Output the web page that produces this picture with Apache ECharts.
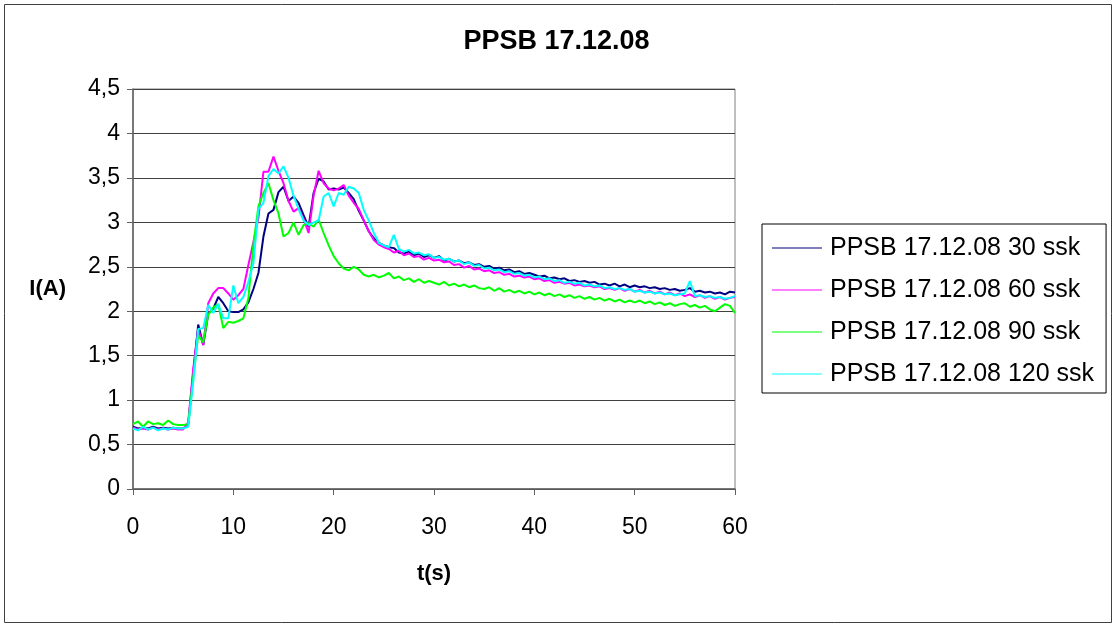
<!DOCTYPE html>
<html>
<head>
<meta charset="utf-8">
<script src="https://cdn.jsdelivr.net/npm/echarts@6/dist/echarts.min.js"></script>
<style>
html,body{margin:0;padding:0;background:#fff;}
#chart{width:1113px;height:624px;}
</style>
</head>
<body>
<div id="chart"></div>
<script>
const titleText = 'PPSB 17.12.08';
const seriesNames = ['PPSB 17.12.08 30 ssk','PPSB 17.12.08 60 ssk','PPSB 17.12.08 90 ssk','PPSB 17.12.08 120 ssk'];
const xAxisTitle = 't(s)';
const yAxisTitle = 'I(A)';

const times = [
 0,0.5,1,1.5,2,2.5,3,3.5,4,4.5,
 5,5.5,6,6.5,7,7.5,8,8.5,9,9.5,
 10,10.5,11,11.5,12,12.5,13,13.5,14,14.5,
 15,15.5,16,16.5,17,17.5,18,18.5,19,19.5,
 20,20.5,21,21.5,22,22.5,23,23.5,24,24.5,
 25,25.5,26,26.5,27,27.5,28,28.5,29,29.5,
 30,30.5,31,31.5,32,32.5,33,33.5,34,34.5,
 35,35.5,36,36.5,37,37.5,38,38.5,39,39.5,
 40,40.5,41,41.5,42,42.5,43,43.5,44,44.5,
 45,45.5,46,46.5,47,47.5,48,48.5,49,49.5,
 50,50.5,51,51.5,52,52.5,53,53.5,54,54.5,
 55,55.5,56,56.5,57,57.5,58,58.5,59,59.5,
 60];

const ssk30 = [
 0.70,0.68,0.69,0.68,0.70,0.68,0.69,0.68,0.69,0.68,
 0.68,0.72,1.30,1.85,1.62,1.97,2.03,2.16,2.09,2.00,
 1.99,1.99,2.02,2.10,2.25,2.43,2.84,3.10,3.14,3.34,
 3.40,3.24,3.29,3.22,3.08,2.95,3.33,3.49,3.46,3.37,
 3.38,3.37,3.39,3.33,3.26,3.13,3.02,2.90,2.82,2.77,
 2.74,2.72,2.71,2.66,2.65,2.67,2.63,2.65,2.61,2.63,
 2.60,2.62,2.57,2.59,2.56,2.57,2.54,2.55,2.52,2.53,
 2.50,2.51,2.48,2.49,2.46,2.47,2.44,2.45,2.42,2.43,
 2.41,2.39,2.40,2.37,2.38,2.36,2.37,2.34,2.35,2.33,
 2.34,2.32,2.33,2.30,2.31,2.29,2.31,2.28,2.30,2.27,
 2.29,2.27,2.28,2.26,2.27,2.25,2.26,2.24,2.25,2.23,
 2.24,2.26,2.22,2.23,2.21,2.22,2.20,2.21,2.19,2.22,
 2.21];

const ssk60 = [
 0.69,0.67,0.68,0.67,0.69,0.67,0.68,0.67,0.68,0.67,
 0.67,0.75,1.35,1.80,1.62,2.09,2.20,2.26,2.26,2.20,
 2.13,2.18,2.25,2.52,2.78,3.05,3.57,3.57,3.74,3.58,
 3.44,3.24,3.12,3.16,3.04,2.88,3.30,3.58,3.44,3.38,
 3.36,3.38,3.42,3.30,3.22,3.15,3.02,2.90,2.80,2.75,
 2.72,2.70,2.66,2.68,2.63,2.65,2.61,2.62,2.58,2.60,
 2.57,2.58,2.55,2.56,2.52,2.53,2.49,2.51,2.47,2.48,
 2.45,2.46,2.43,2.44,2.41,2.42,2.39,2.40,2.38,2.39,
 2.36,2.37,2.34,2.35,2.32,2.33,2.31,2.32,2.29,2.30,
 2.28,2.29,2.27,2.28,2.25,2.26,2.24,2.26,2.23,2.25,
 2.22,2.24,2.21,2.23,2.20,2.22,2.19,2.21,2.18,2.20,
 2.17,2.19,2.16,2.18,2.15,2.17,2.14,2.16,2.13,2.15,
 2.16];

const ssk90 = [
 0.73,0.76,0.70,0.76,0.73,0.74,0.72,0.77,0.73,0.72,
 0.72,0.73,1.25,1.73,1.65,1.96,2.04,2.08,1.81,1.88,
 1.87,1.89,1.92,2.15,2.75,3.18,3.33,3.44,3.25,3.10,
 2.84,2.88,3.00,2.86,2.97,2.99,2.95,3.03,2.88,2.74,
 2.62,2.54,2.48,2.46,2.50,2.47,2.41,2.39,2.41,2.38,
 2.40,2.43,2.37,2.39,2.35,2.37,2.33,2.36,2.32,2.34,
 2.32,2.30,2.33,2.29,2.31,2.28,2.30,2.27,2.29,2.26,
 2.25,2.27,2.23,2.26,2.22,2.24,2.21,2.23,2.20,2.22,
 2.19,2.21,2.18,2.20,2.17,2.19,2.16,2.18,2.15,2.17,
 2.14,2.16,2.13,2.15,2.12,2.14,2.11,2.13,2.10,2.12,
 2.10,2.12,2.09,2.11,2.08,2.10,2.07,2.09,2.06,2.08,
 2.09,2.05,2.07,2.04,2.06,2.02,2.00,2.04,2.08,2.06,
 1.98];

const ssk120 = [
 0.68,0.66,0.70,0.67,0.69,0.66,0.68,0.67,0.69,0.68,
 0.68,0.70,1.20,1.80,1.81,2.07,1.98,2.08,1.92,1.92,
 2.29,2.09,2.16,2.33,2.54,3.15,3.22,3.52,3.60,3.55,
 3.63,3.50,3.30,3.15,3.02,2.97,3.00,3.02,3.29,3.33,
 3.18,3.33,3.31,3.40,3.38,3.33,3.14,3.02,2.88,2.77,
 2.74,2.72,2.86,2.70,2.67,2.69,2.65,2.66,2.63,2.64,
 2.60,2.61,2.58,2.59,2.56,2.57,2.53,2.55,2.51,2.52,
 2.48,2.49,2.46,2.47,2.44,2.45,2.42,2.43,2.40,2.41,
 2.38,2.39,2.36,2.37,2.34,2.35,2.32,2.33,2.31,2.32,
 2.29,2.30,2.28,2.29,2.26,2.27,2.25,2.26,2.24,2.25,
 2.22,2.23,2.21,2.22,2.20,2.21,2.19,2.20,2.18,2.19,
 2.20,2.34,2.17,2.18,2.16,2.17,2.15,2.16,2.14,2.15,
 2.17];

const seriesValues = [ssk30, ssk60, ssk90, ssk120];
const seriesColors = ['#000080','#ff00ff','#00ff00','#00ffff'];
const FONT = '"Liberation Sans", Arial, Helvetica, sans-serif';

const chart = echarts.init(document.getElementById('chart'), null, {renderer:'canvas'});
const option = {
  backgroundColor:'#ffffff',
  animation:false,
  title:{
    text:titleText, left:'center', top:28, padding:0,
    textStyle:{fontFamily:FONT, fontSize:27, fontWeight:'bold', color:'#000'}
  },
  graphic:[{
    type:'rect', left:2, top:2, silent:true,
    shape:{width:1107, height:618},
    style:{fill:'none', stroke:'#404040', lineWidth:1}
  }],
  legend:{
    orient:'vertical', left:762, top:224,
    data:seriesNames,
    itemWidth:50, itemHeight:20, itemGap:14,
    borderColor:'#000', borderWidth:1, backgroundColor:'#fff',
    padding:[10,12,5,10], borderRadius:0,
    icon:'path://M0,9.5 L50,9.5 L50,10.5 L0,10.5 Z',
    textStyle:{fontFamily:FONT, fontSize:25, color:'#000', lineHeight:28, padding:[0,0,0,3]}
  },
  grid:{left:133, top:89, right:378, bottom:135, show:true, borderColor:'#808080', borderWidth:1, backgroundColor:'#fff'},
  xAxis:{
    type:'value', min:0, max:60, interval:10,
    name:xAxisTitle, nameLocation:'middle', nameGap:74,
    nameTextStyle:{fontFamily:FONT, fontSize:22, fontWeight:'bold', color:'#000'},
    axisLine:{lineStyle:{color:'#606060', width:1.5}},
    axisTick:{show:true, length:6, lineStyle:{color:'#606060'}},
    axisLabel:{margin:27, fontFamily:FONT, fontSize:23, color:'#000'},
    splitLine:{show:false}
  },
  yAxis:{
    type:'value', min:0, max:4.5, interval:0.5,
    name:yAxisTitle, nameLocation:'middle', nameGap:67, nameRotate:0,
    nameTextStyle:{fontFamily:FONT, fontSize:22, fontWeight:'bold', color:'#000'},
    axisLine:{show:true, lineStyle:{color:'#606060', width:1.5}},
    axisTick:{show:true, length:6, lineStyle:{color:'#606060'}},
    axisLabel:{margin:13, fontFamily:FONT, fontSize:23, color:'#000',
      formatter:function(v){return String(v).replace('.', ',');}},
    splitLine:{show:true, lineStyle:{color:'#404040', width:1}}
  },
  series: seriesNames.map(function(n, k){
    return {
      name:n, type:'line', symbol:'none', smooth:false,
      data: times.map(function(t, i){ return [t, seriesValues[k][i]]; }),
      lineStyle:{color:seriesColors[k], width:2},
      itemStyle:{color:seriesColors[k]}
    };
  })
};
chart.setOption(option);
</script>
</body>
</html>
